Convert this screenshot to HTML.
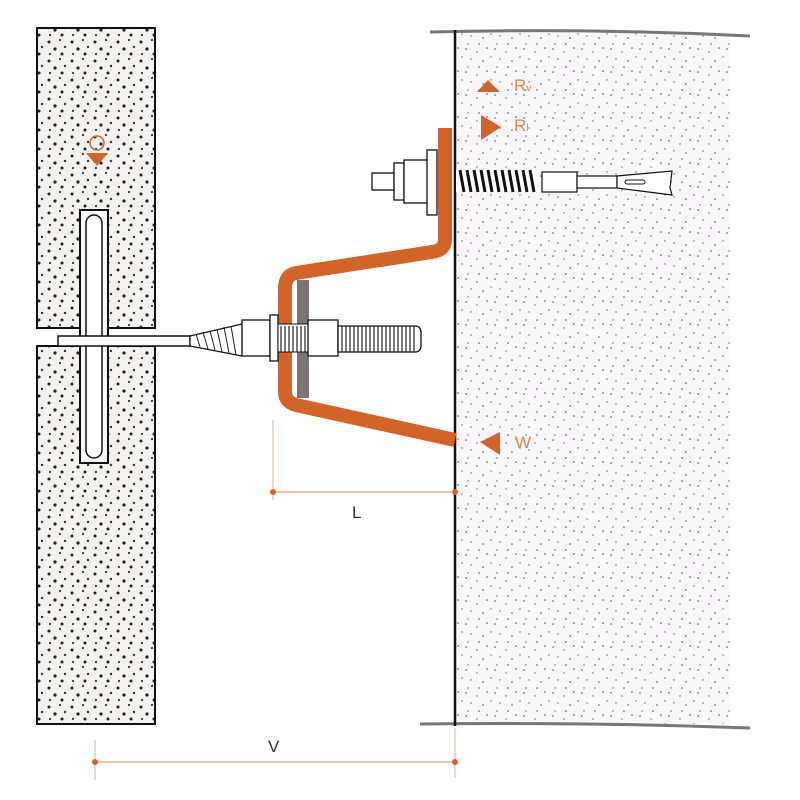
<!DOCTYPE html>
<html><head><meta charset="utf-8"><style>html,body{margin:0;padding:0;background:#fff}svg{display:block}</style></head>
<body>
<svg width="800" height="800" viewBox="0 0 800 800" xmlns="http://www.w3.org/2000/svg" font-family="Liberation Sans, sans-serif">
<defs>
<pattern id="stone" width="23" height="19" patternUnits="userSpaceOnUse">
<rect width="23" height="19" fill="#f3f2f1"/>
<circle cx="3" cy="4" r="1.5" fill="#222"/><circle cx="14" cy="2" r="1.1" fill="#333"/>
<circle cx="9" cy="11" r="1.6" fill="#222"/><circle cx="19" cy="9" r="1.2" fill="#333"/>
<circle cx="4" cy="16" r="1.1" fill="#333"/><circle cx="16" cy="16" r="1.5" fill="#222"/>
</pattern>
<pattern id="wall" width="29" height="23" patternUnits="userSpaceOnUse">
<rect width="29" height="23" fill="#f8f6f8"/>
<circle cx="2" cy="3" r=".8" fill="#555"/><circle cx="13" cy="6" r=".7" fill="#666"/>
<circle cx="23" cy="2" r=".8" fill="#555"/><circle cx="7" cy="13" r=".7" fill="#666"/>
<circle cx="19" cy="15" r=".8" fill="#555"/><circle cx="27" cy="11" r=".7" fill="#666"/>
<circle cx="4" cy="21" r=".7" fill="#666"/><circle cx="15" cy="21" r=".8" fill="#555"/>
</pattern>
</defs>
<!-- wall -->
<rect x="455" y="32" width="275" height="692" fill="url(#wall)"/>
<path d="M430 32 Q590 28 750 36" stroke="#777" stroke-width="3" fill="none"/>
<path d="M420 724 Q590 722 750 728" stroke="#777" stroke-width="3" fill="none"/>
<line x1="455" y1="30" x2="455" y2="726" stroke="#111" stroke-width="2.5"/>
<!-- stone panel -->
<rect x="37" y="28" width="118" height="300" fill="url(#stone)" stroke="#111" stroke-width="2"/>
<rect x="37" y="346" width="118" height="378" fill="url(#stone)" stroke="#111" stroke-width="2"/>
<rect x="80" y="210" width="28" height="253" fill="#fafafa" stroke="#111" stroke-width="2"/>
<rect x="86" y="215" width="16" height="243" rx="8" fill="#fff" stroke="#111" stroke-width="1.5"/>
<rect x="58" y="336" width="132" height="10" fill="#fff" stroke="#111" stroke-width="1.5"/>
<polygon points="190,336 242,324 242,356 190,346" fill="#fff" stroke="#111" stroke-width="1.2"/>
<g stroke="#222" stroke-width="1"><line x1="196" y1="334" x2="200" y2="347"/><line x1="203" y1="332" x2="208" y2="349"/><line x1="210" y1="331" x2="215" y2="350"/><line x1="217" y1="329" x2="222" y2="352"/><line x1="224" y1="327" x2="229" y2="353"/><line x1="231" y1="326" x2="236" y2="355"/></g>
<!-- bracket -->
<path d="M445 128 L445 240 Q445 250 432 252 L296 273 Q285 275 285 288 L285 392 Q285 402 296 405 L455 440" stroke="#d2642a" stroke-width="14" fill="none" stroke-linejoin="round"/>
<rect x="297" y="280" width="12" height="118" fill="#7a7474"/>
<!-- lower bolt -->
<rect x="242" y="320" width="28" height="36" fill="#fff" stroke="#111" stroke-width="1.3"/>
<rect x="270" y="315" width="8" height="46" fill="#fff" stroke="#111" stroke-width="1.3"/>
<rect x="278" y="324" width="30" height="28" fill="#fff" stroke="#111" stroke-width="1"/>
<rect x="308" y="320" width="30" height="36" fill="#fff" stroke="#111" stroke-width="1.3"/>
<path d="M338 326 L415 326 Q421 326 421 333 L421 345 Q421 352 415 352 L338 352 Z" fill="#fff" stroke="#111" stroke-width="1.3"/>
<g stroke="#222" stroke-width="1.2">
<path d="M281 326v26M285 326v26M289 326v26M293 326v26M297 326v26M301 326v26M305 326v26M342 326v26M346 326v26M350 326v26M354 326v26M358 326v26M362 326v26M366 326v26M370 326v26M374 326v26M378 326v26M382 326v26M386 326v26M390 326v26M394 326v26M398 326v26M402 326v26M406 326v26M410 326v26M414 326v26"/>
</g>
<!-- upper bolt -->
<rect x="372" y="173" width="22" height="17" fill="#fff" stroke="#111" stroke-width="1.3"/>
<rect x="394" y="163" width="10" height="37" fill="#fff" stroke="#111" stroke-width="1.3"/>
<rect x="404" y="160" width="24" height="43" fill="#fff" stroke="#111" stroke-width="1.3"/>
<rect x="427" y="150" width="10" height="65" fill="#fff" stroke="#111" stroke-width="1.3"/>
<rect x="456" y="170" width="84" height="22" fill="#fff"/>
<g stroke="#111" stroke-width="3"><path d="M460 170l4 22M467 170l4 22M474 170l4 22M481 170l4 22M488 170l4 22M495 170l4 22M502 170l4 22M509 170l4 22M516 170l4 22M523 170l4 22M530 170l4 22"/></g>
<rect x="542" y="172" width="35" height="20" fill="#fff" stroke="#111" stroke-width="1.2"/>
<rect x="577" y="176" width="40" height="12" fill="#fff" stroke="#111" stroke-width="1.2"/>
<polygon points="617,176 672,171 670,188 672,195 617,188" fill="#fff" stroke="#111" stroke-width="1.2"/>
<rect x="625" y="180" width="20" height="4" rx="2" fill="#fff" stroke="#111"/>
<!-- labels -->
<g fill="#d2642a">
<polygon points="477,92 488,80 500,92"/>
<polygon points="481,115 501,127 481,140"/>
<polygon points="500,432 480,442 500,455"/>
<polygon points="86,153 108,153 97,166"/>
</g>
<circle cx="97" cy="143" r="7" fill="none" stroke="#d2642a" stroke-width="1.5"/>
<g fill="#d98a50" font-size="17">
<text x="514" y="91">R<tspan font-size="10">v</tspan></text>
<text x="514" y="131">R<tspan font-size="10">l</tspan></text>
<text x="515" y="448">W</text>
</g>
<!-- dimension L -->
<line x1="273" y1="420" x2="273" y2="500" stroke="#e0b090" stroke-width="1"/>
<line x1="273" y1="492" x2="455" y2="492" stroke="#e0a080" stroke-width="1.2"/>
<circle cx="273" cy="492" r="3" fill="#d2642a"/><circle cx="455" cy="492" r="3" fill="#d2642a"/>
<text x="352" y="518" font-size="17" fill="#333">L</text>
<!-- dimension V -->
<line x1="95" y1="740" x2="95" y2="780" stroke="#e0b090" stroke-width="1"/>
<line x1="455" y1="728" x2="455" y2="778" stroke="#e0b090" stroke-width="1"/>
<line x1="95" y1="762" x2="455" y2="762" stroke="#e0a080" stroke-width="1.2"/>
<circle cx="95" cy="762" r="3" fill="#d2642a"/><circle cx="455" cy="762" r="3" fill="#d2642a"/>
<text x="268" y="752" font-size="17" fill="#333">V</text>
</svg>
</body></html>
